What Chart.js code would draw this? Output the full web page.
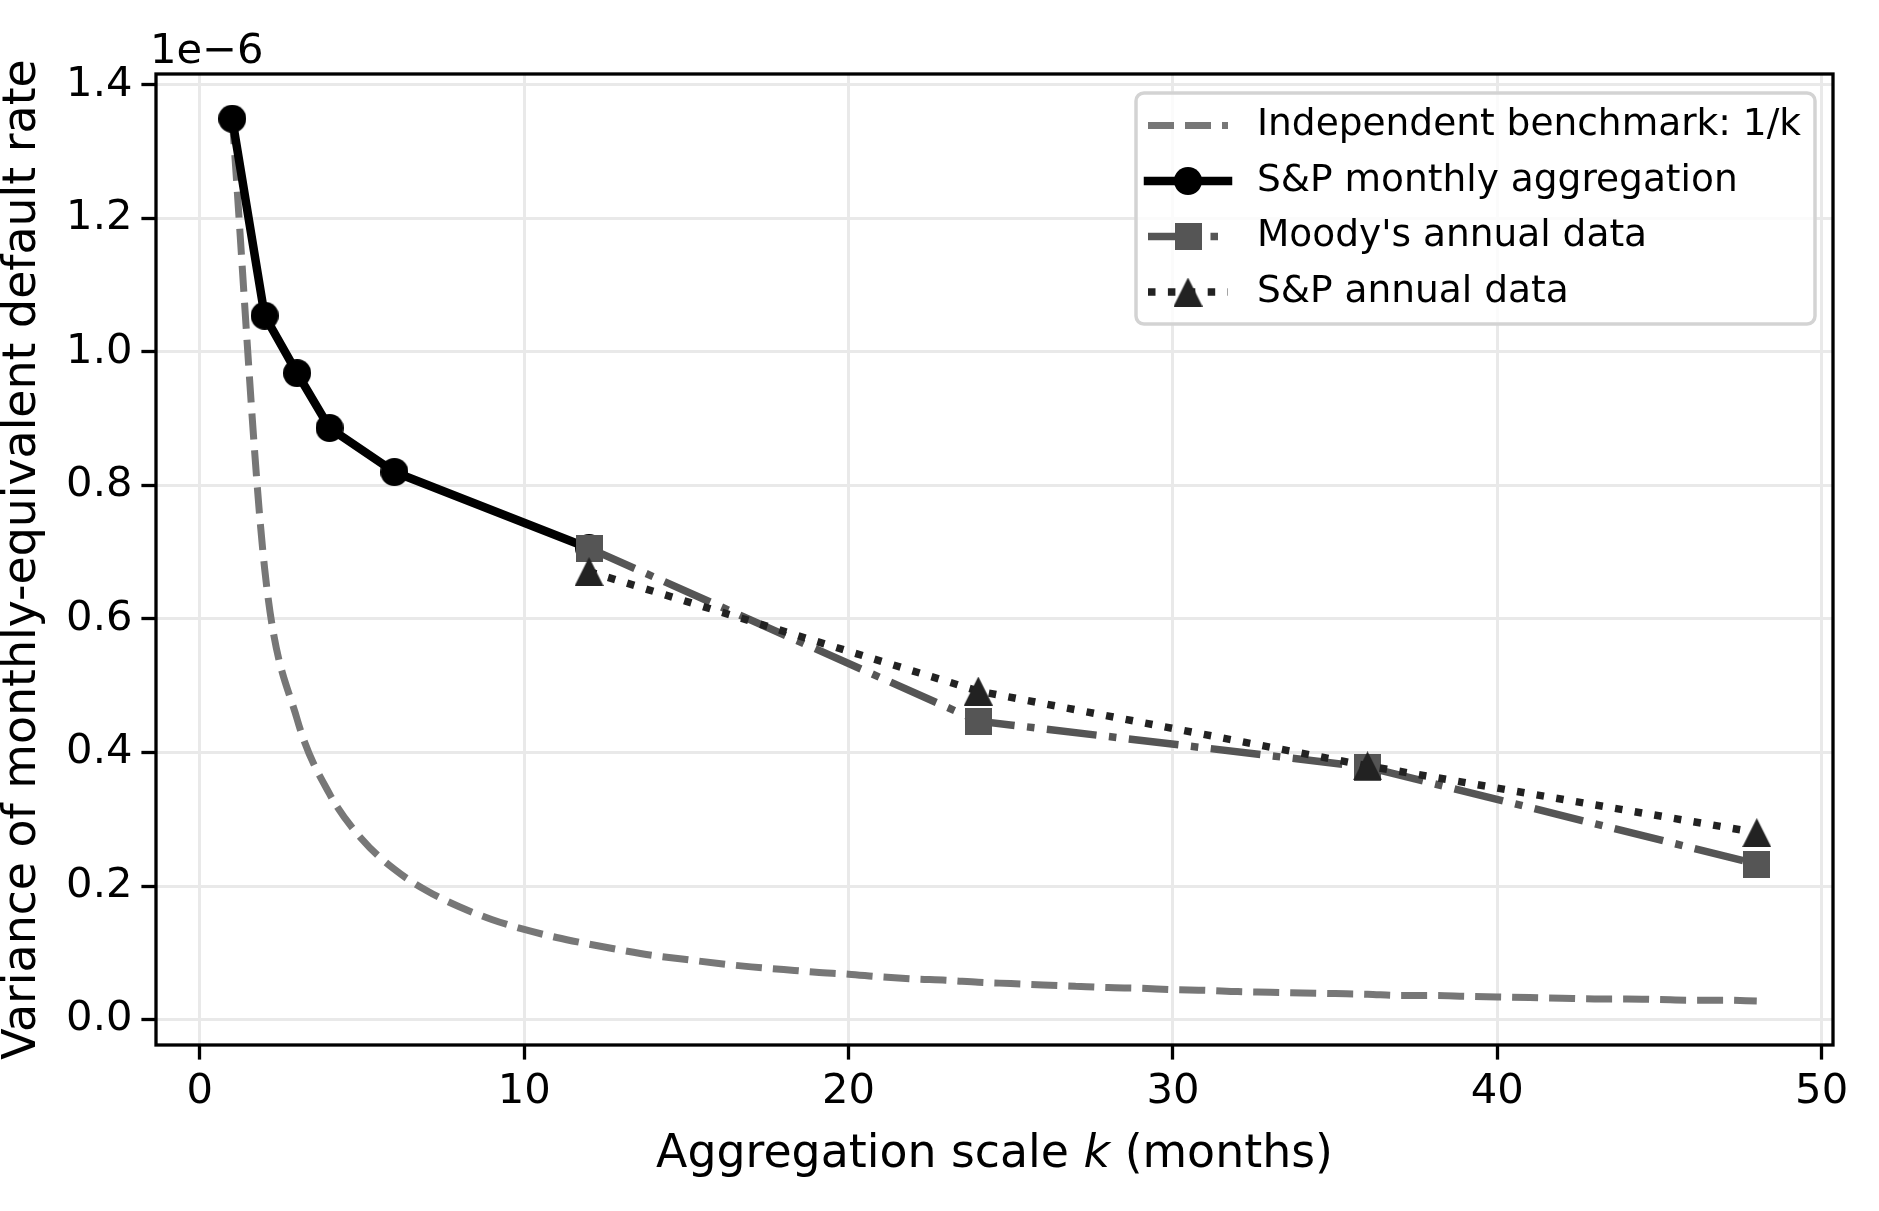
<!DOCTYPE html>
<html>
<head>
<meta charset="utf-8">
<script src="https://cdn.jsdelivr.net/npm/chart.js@4.4.0/dist/chart.umd.min.js"></script>
<style>
  html, body { margin: 0; padding: 0; background: #fff; }
  canvas { display: block; }
</style>
</head>
<body>
<canvas id="varChart" width="1879" height="1211"></canvas>
<script>
// all variances are in units of 1e-6
const kBench = [1, 2, 3, 4, 5, 6, 7, 8, 9, 10, 11, 12, 13, 14, 15, 16, 17, 18, 19, 20, 21, 22, 23, 24,
                25, 26, 27, 28, 29, 30, 31, 32, 33, 34, 35, 36, 37, 38, 39, 40, 41, 42, 43, 44, 45, 46, 47, 48];
const benchmark = [1.350, 0.675, 0.450, 0.338, 0.270, 0.225, 0.193, 0.169, 0.150, 0.135, 0.123, 0.113,
                   0.104, 0.096, 0.090, 0.084, 0.079, 0.075, 0.071, 0.068, 0.064, 0.061, 0.059, 0.056,
                   0.054, 0.052, 0.050, 0.048, 0.047, 0.045, 0.044, 0.042, 0.041, 0.040, 0.039, 0.038,
                   0.036, 0.036, 0.035, 0.034, 0.033, 0.032, 0.031, 0.031, 0.030, 0.029, 0.029, 0.028];

const kMonthly = [1, 2, 3, 4, 6, 12];
const spMonthly = [1.349, 1.054, 0.968, 0.886, 0.820, 0.706];

const kAnnual = [12, 24, 36, 48];
const moodysAnnual = [0.706, 0.447, 0.378, 0.233];
const spAnnual = [0.671, 0.492, 0.380, 0.280];

const xTicks = [0, 10, 20, 30, 40, 50];
const yTicks = [0.0, 0.2, 0.4, 0.6, 0.8, 1.0, 1.2, 1.4];
const offsetLabel = '1e\u22126';

const FONT = 'DejaVu Sans';

function pts(xs, ys) {
    return xs.map(function(x, i) { return { x: x, y: ys[i] }; });
}

// marker images so the shapes sit like matplotlib's
function makeMarker(shape, size, color) {
    const c = document.createElement('canvas');
    c.width = size;
    c.height = size;
    const g = c.getContext('2d');
    g.fillStyle = color;
    g.beginPath();
    if (shape === 'circle') {
        g.arc(size / 2, size / 2, size / 2, 0, Math.PI * 2);
    } else if (shape === 'square') {
        g.rect(0, 0, size, size);
    } else {
        g.moveTo(size / 2, 0);
        g.lineTo(size, size);
        g.lineTo(0, size);
        g.closePath();
    }
    g.fill();
    return c;
}

const circleMk = makeMarker('circle', 28, '#000000');
const squareMk = makeMarker('square', 27, '#555555');
const triMk = makeMarker('triangle', 29, '#222222');

const legendItems = [
    { label: 'Independent benchmark: 1/k', color: '#777777', width: 7, dash: [26, 11], cap: 'butt', marker: null },
    { label: 'S&P monthly aggregation', color: '#000000', width: 8.5, dash: [], cap: 'square', marker: circleMk },
    { label: "Moody's annual data", color: '#555555', width: 7.5, dash: [50, 12.5, 7.5, 12.5], cap: 'butt', marker: squareMk },
    { label: 'S&P annual data', color: '#222222', width: 7.5, dash: [7.5, 12.4], cap: 'butt', marker: triMk }
];

const decorPlugin = {
    id: 'decor',
    afterDatasetsDraw: function(chart) {
        const ctx = chart.ctx;
        const a = chart.chartArea;
        ctx.save();

        // spines
        ctx.strokeStyle = '#000';
        ctx.lineWidth = 3.3;
        ctx.setLineDash([]);
        ctx.strokeRect(a.left, a.top, a.right - a.left, a.bottom - a.top);

        // legend
        const bx = 1136, by = 93, bw = 679, bh = 231;
        ctx.beginPath();
        ctx.roundRect(bx, by, bw, bh, 8);
        ctx.fillStyle = 'rgba(255,255,255,0.8)';
        ctx.fill();
        ctx.strokeStyle = '#d3d3d3';
        ctx.lineWidth = 3.5;
        ctx.stroke();

        const rows = [125.5, 181, 236.5, 292];
        ctx.font = '37.5px "' + FONT + '"';
        ctx.textBaseline = 'middle';
        ctx.textAlign = 'left';
        legendItems.forEach(function(it, i) {
            const y = rows[i];
            ctx.beginPath();
            ctx.setLineDash(it.dash);
            ctx.lineCap = it.cap;
            ctx.strokeStyle = it.color;
            ctx.lineWidth = it.width;
            ctx.moveTo(1148, y);
            ctx.lineTo(1228, y);
            ctx.stroke();
            ctx.setLineDash([]);
            if (it.marker) {
                ctx.drawImage(it.marker, 1188 - it.marker.width / 2, y - it.marker.height / 2);
            }
            ctx.fillStyle = '#000';
            ctx.fillText(it.label, 1257, y);
        });

        // offset text
        ctx.font = '41.7px "' + FONT + '"';
        ctx.textBaseline = 'alphabetic';
        ctx.fillText(offsetLabel, 150, 63);

        // x title with italic k
        const p1 = 'Aggregation scale ', p2 = 'k', p3 = ' (months)';
        const reg = '45.8px "' + FONT + '"', ita = 'italic 45.8px "' + FONT + '"';
        ctx.font = reg;
        const w1 = ctx.measureText(p1).width, w3 = ctx.measureText(p3).width;
        ctx.font = ita;
        const w2 = ctx.measureText(p2).width;
        let x = (a.left + a.right) / 2 - (w1 + w2 + w3) / 2;
        ctx.font = reg;
        ctx.fillText(p1, x, 1167);
        x += w1;
        ctx.font = ita;
        ctx.fillText(p2, x, 1167);
        x += w2;
        ctx.font = reg;
        ctx.fillText(p3, x, 1167);

        ctx.restore();
    }
};

const ctx = document.getElementById('varChart').getContext('2d');
new Chart(ctx, {
    type: 'line',
    data: {
        datasets: [
            {
                label: 'S&P annual data',
                data: pts(kAnnual, spAnnual),
                borderColor: '#222222',
                borderWidth: 7.5,
                borderDash: [7.5, 12.4],
                borderCapStyle: 'butt',
                pointStyle: triMk,
                pointRadius: 14,
                order: 0
            },
            {
                label: "Moody's annual data",
                data: pts(kAnnual, moodysAnnual),
                borderColor: '#555555',
                borderWidth: 7.5,
                borderDash: [50, 12.5, 7.5, 12.5],
                borderCapStyle: 'butt',
                pointStyle: squareMk,
                pointRadius: 14,
                order: 1
            },
            {
                label: 'S&P monthly aggregation',
                data: pts(kMonthly, spMonthly),
                borderColor: '#000000',
                borderWidth: 8.5,
                borderJoinStyle: 'round',
                borderCapStyle: 'square',
                pointStyle: circleMk,
                pointRadius: 14,
                order: 2
            },
            {
                label: 'Independent benchmark: 1/k',
                data: pts(kBench, benchmark),
                borderColor: '#777777',
                borderWidth: 7,
                borderDash: [26, 11],
                borderCapStyle: 'butt',
                cubicInterpolationMode: 'monotone',
                pointRadius: 0,
                order: 3
            }
        ]
    },
    options: {
        responsive: false,
        animation: false,
        events: [],
        layout: {
            padding: { top: 74, right: 46, left: 0, bottom: 0 }
        },
        plugins: {
            legend: { display: false },
            tooltip: { enabled: false }
        },
        scales: {
            x: {
                type: 'linear',
                min: -1.35,
                max: 50.35,
                afterFit: function(s) { s.height = 166; },
                afterBuildTicks: function(s) { s.ticks = xTicks.map(function(v) { return { value: v }; }); },
                ticks: {
                    color: '#000',
                    font: { family: FONT, size: 41.7 },
                    padding: 8,
                    maxRotation: 0,
                    callback: function(v) { return String(v); }
                },
                grid: {
                    color: '#e9e9e9',
                    lineWidth: 3,
                    tickColor: '#000',
                    tickWidth: 3.3,
                    tickLength: 14.6
                },
                border: { display: false }
            },
            y: {
                type: 'linear',
                min: -0.038,
                max: 1.416,
                afterFit: function(s) { s.width = 156; },
                afterBuildTicks: function(s) { s.ticks = yTicks.map(function(v) { return { value: v }; }); },
                ticks: {
                    color: '#000',
                    font: { family: FONT, size: 41.7 },
                    padding: 9,
                    callback: function(v) { return v.toFixed(1); }
                },
                grid: {
                    color: '#e9e9e9',
                    lineWidth: 3,
                    tickColor: '#000',
                    tickWidth: 3.3,
                    tickLength: 14.6
                },
                border: { display: false },
                title: {
                    display: true,
                    text: 'Variance of monthly-equivalent default rate',
                    color: '#000',
                    font: { family: FONT, size: 45.8, lineHeight: 1 },
                    padding: 0
                }
            }
        }
    },
    plugins: [decorPlugin]
});
</script>
</body>
</html>
